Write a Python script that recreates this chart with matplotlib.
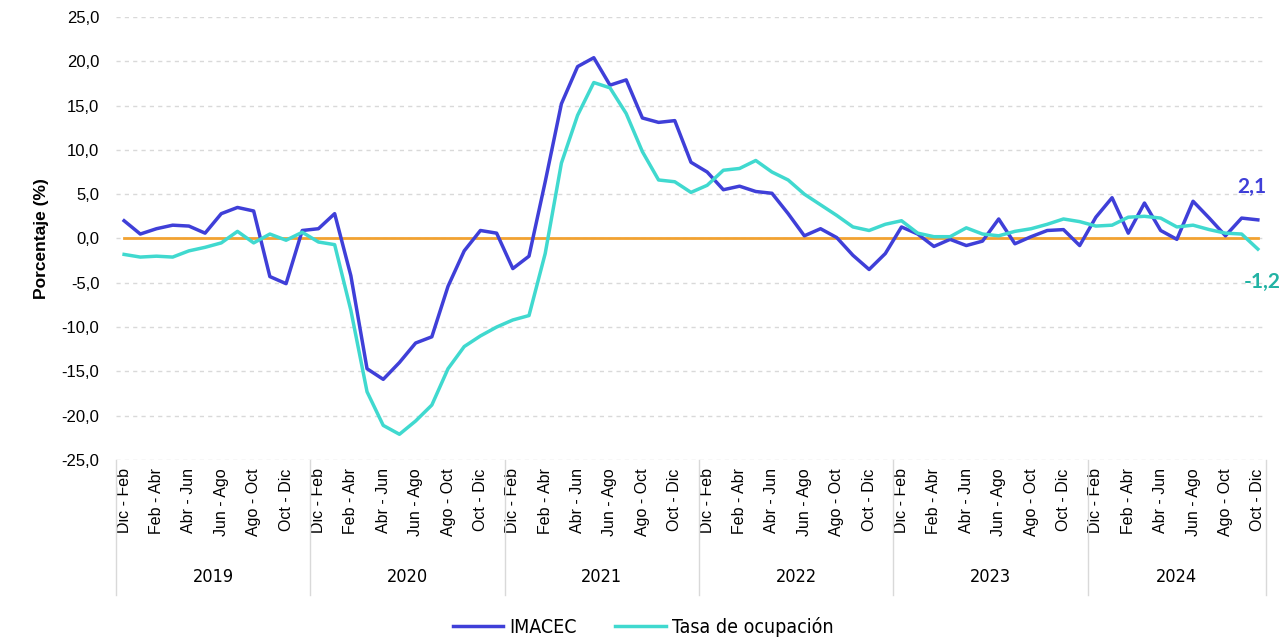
import matplotlib
matplotlib.use("Agg")
import matplotlib.pyplot as plt
import matplotlib.transforms as mtransforms
from matplotlib.font_manager import FontProperties
import numpy as np

# Datos (trimestres móviles, variación % anual)
years = ["2019", "2020", "2021", "2022", "2023", "2024"]
months_per_year = [12, 12, 12, 12, 12, 11]
tick_names = ["Dic - Feb", "Feb - Abr", "Abr - Jun", "Jun - Ago", "Ago - Oct", "Oct - Dic"]

imacec = [
    2.0, 0.5, 1.1, 1.5, 1.4, 0.6, 2.8, 3.5, 3.1, -4.3, -5.1, 0.9,
    1.1, 2.8, -4.2, -14.7, -15.9, -14.0, -11.8, -11.1, -5.4, -1.4, 0.9, 0.6,
    -3.4, -2.0, 6.4, 15.2, 19.4, 20.4, 17.3, 17.9, 13.6, 13.1, 13.3, 8.6,
    7.5, 5.5, 5.9, 5.3, 5.1, 2.8, 0.3, 1.1, 0.1, -1.9, -3.5, -1.7,
    1.3, 0.5, -0.9, -0.1, -0.8, -0.3, 2.2, -0.6, 0.2, 0.9, 1.0, -0.8,
    2.4, 4.6, 0.6, 4.0, 0.9, -0.1, 4.2, 2.3, 0.3, 2.3, 2.1,
]
ocupacion = [
    -1.8, -2.1, -2.0, -2.1, -1.4, -1.0, -0.5, 0.8, -0.5, 0.5, -0.2, 0.7,
    -0.4, -0.7, -8.1, -17.3, -21.1, -22.1, -20.6, -18.8, -14.7, -12.2, -11.0, -10.0,
    -9.2, -8.7, -1.7, 8.5, 13.9, 17.6, 17.0, 14.1, 9.8, 6.6, 6.4, 5.2,
    6.0, 7.7, 7.9, 8.8, 7.5, 6.6, 5.0, 3.8, 2.6, 1.3, 0.9, 1.6,
    2.0, 0.6, 0.2, 0.2, 1.2, 0.5, 0.3, 0.8, 1.1, 1.6, 2.2, 1.9,
    1.4, 1.5, 2.4, 2.5, 2.3, 1.3, 1.5, 1.0, 0.6, 0.5, -1.2,
]

col_imacec = "#3F3FD8"
col_ocup = "#40D9CF"
col_zero = "#F2A231"

x = np.arange(len(imacec))

# fuente angosta para años y leyenda
narrow = FontProperties(family="DejaVu Sans", stretch="condensed", size=13)
narrow_leg = FontProperties(family="DejaVu Sans", stretch="condensed", size=14)

fig = plt.figure(figsize=(12.86, 6.4), dpi=100)
ax = fig.add_axes([0.0902, 0.2813, 0.8942, 0.6922])

ax.plot(x, np.zeros(len(x)), color=col_zero, lw=2.0, zorder=2)
ax.plot(x, imacec, color=col_imacec, lw=2.5, label="IMACEC", zorder=3)
ax.plot(x, ocupacion, color=col_ocup, lw=2.5, label="Tasa de ocupación", zorder=3)

ax.set_xlim(-0.5, len(x) - 0.5)
ax.set_ylim(-25, 25)
ax.set_yticks(np.arange(-25, 26, 5))
ax.set_yticklabels([f"{v:.1f}".replace(".", ",") for v in np.arange(-25, 26, 5)],
                   fontsize=12, family="Liberation Sans")
ax.yaxis.grid(True, ls=(0, (3, 3)), color="#D9D9D9", lw=1)
ax.set_axisbelow(True)
for s in ax.spines.values():
    s.set_visible(False)
ax.tick_params(axis="y", length=0, pad=12)
ax.set_ylabel("Porcentaje (%)", fontsize=12.5, fontweight="bold", family="Liberation Sans", labelpad=9)

# eje x con dos niveles: trimestres y años
ticks, labels = [], []
start = 0
for n in months_per_year:
    for k in range(0, n, 2):
        ticks.append(start + k)
        labels.append(tick_names[k // 2])
    start += n
ax.set_xticks(ticks)
ax.set_xticklabels(labels, rotation=90, fontsize=11.5, family="Liberation Sans", va="top")
ax.tick_params(axis="x", length=0, pad=6)

trans = mtransforms.blended_transform_factory(ax.transData, ax.transAxes)
start = 0
bounds = [-0.5]
for yr, n in zip(years, months_per_year):
    ax.text(start + n / 2 - 0.5, -0.265, yr, transform=trans, ha="center", va="center",
            fontproperties=narrow)
    start += n
    bounds.append(start - 0.5)
for b in bounds:
    ax.plot([b, b], [0, -0.305], transform=trans, color="#D9D9D9", lw=1, clip_on=False)

# etiquetas del último dato
ax.annotate(f"{imacec[-1]:.1f}".replace(".", ","), (x[-1], imacec[-1]), xytext=(-4, 24),
            textcoords="offset points", ha="center", va="center", fontsize=15,
            fontweight="bold", color=col_imacec, family="Lato")
ax.annotate(f"{ocupacion[-1]:.1f}".replace(".", ","), (x[-1], ocupacion[-1]), xytext=(3, -24),
            textcoords="offset points", ha="center", va="center", fontsize=15,
            fontweight="bold", color="#22B3A4", family="Lato")

fig.legend(loc="center", bbox_to_anchor=(0.5, 0.02), ncol=2, frameon=False,
           prop=narrow_leg, handlelength=2.6, columnspacing=2.0, handletextpad=0.3)

fig.savefig("out.png", dpi=100)
